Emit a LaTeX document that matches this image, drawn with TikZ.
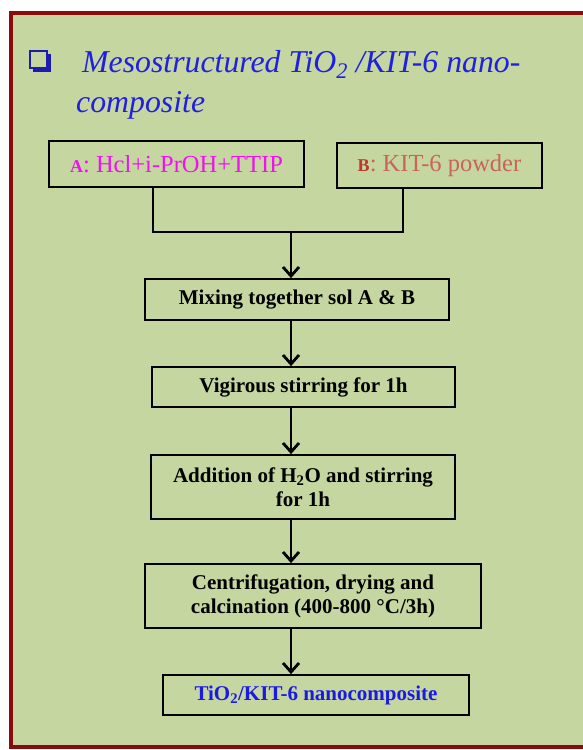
\documentclass[tikz,border=0pt]{standalone}
\usepackage{fontspec}
\setmainfont{Liberation Serif}
\usetikzlibrary{arrows.meta}
\definecolor{bg}{HTML}{C5D6A0}
\definecolor{framec}{HTML}{8B0A0A}
\definecolor{ttl}{HTML}{2020E0}
\definecolor{bul}{HTML}{1C1CB0}
\definecolor{mag}{HTML}{F010F0}
\definecolor{brn}{HTML}{C8645A}
\definecolor{brnd}{HTML}{B83A30}
\definecolor{fblue}{HTML}{1A1AE6}
\begin{document}
\begin{tikzpicture}[x=1pt,y=-1pt,
  box/.style={draw=black, line width=1.8pt, inner sep=0pt, align=center},
  steptext/.style={font=\bfseries\fontsize{21}{24}\selectfont},
  srctext/.style={font=\fontsize{24.5}{28}\selectfont},
  conn/.style={line width=2.8pt},
  arr/.style={line width=2.8pt, -{Straight Barb[length=9pt,width=16pt]}},
  titletext/.style={font=\itshape\fontsize{31.8}{40}\selectfont, text=ttl, inner sep=0pt}]
\useasboundingbox (0,0) rectangle (583,750);
\clip (0,0) rectangle (583,750);
\fill[white] (0,0) rectangle (583,750);
\draw[framec, line width=4pt, fill=bg] (11,13) rectangle (600,747);
% bullet
\fill[bul] (33,54) rectangle (51,72);
\fill[bg] (31,52) rectangle (47,68);
\draw[bul, line width=1.8pt] (30,51) rectangle (47,68);
% title
\node[titletext, anchor=base west] (title1) at (82,72) {Mesostructured TiO\textsubscript{2} /KIT-6 nano-};
\node[titletext, anchor=base west] (title2) at (76,112) {composite};
% source boxes
\node[box, srctext, text=mag, minimum width=255pt, minimum height=46pt] (A) at (176.5,164)
  {{\bfseries\fontsize{18}{18}\selectfont A}: Hcl+i-PrOH+TTIP};
\node[box, srctext, text=brn, minimum width=205pt, minimum height=45pt] (B) at (439.5,165.5)
  {{\bfseries\fontsize{18}{18}\selectfont\color{brnd}B}: KIT-6 powder};
% steps
\node[box, steptext, minimum width=304pt, minimum height=41pt] (mix) at (297,299.5) {Mixing together sol A \& B};
\node[box, steptext, minimum width=303pt, minimum height=40pt] (stir) at (303.5,387) {Vigirous stirring for 1h};
\node[box, steptext, minimum width=304pt, minimum height=64pt] (add) at (303,487) {Addition of H\textsubscript{2}O and stirring\\for 1h};
\node[box, steptext, minimum width=336pt, minimum height=64pt] (cent) at (313,596) {Centrifugation, drying and\\calcination (400-800 °C/3h)};
\node[box, steptext, text=fblue, minimum width=306pt, minimum height=40pt] (fin) at (316,695) {TiO\textsubscript{2}/KIT-6 nanocomposite};
% connectors
\coordinate (jA) at (153,232);
\coordinate (jB) at (403,232);
\coordinate (jm) at (291,232);
\draw[conn, line cap=rect] (jA |- A.south) -- (jA) -- (jB) -- (jB |- B.south);
\draw[arr] (jm) -- (jm |- mix.north);
\draw[arr] (jm |- mix.south) -- (jm |- stir.north);
\draw[arr] (jm |- stir.south) -- (jm |- add.north);
\draw[arr] (jm |- add.south) -- (jm |- cent.north);
\draw[arr] (jm |- cent.south) -- (jm |- fin.north);
\end{tikzpicture}
\end{document}
